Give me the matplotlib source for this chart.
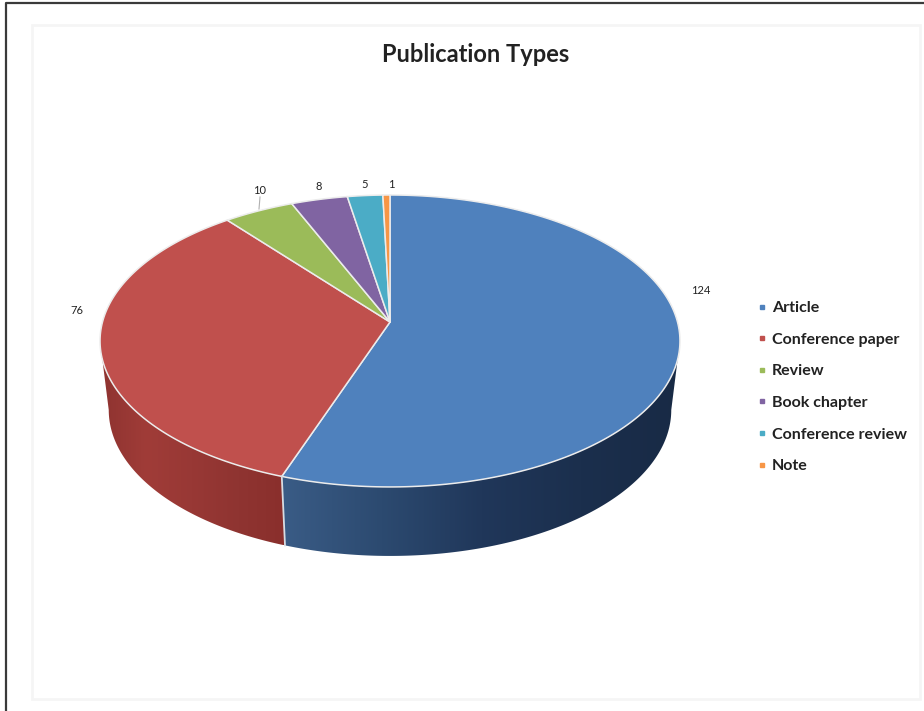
#!/usr/bin/env python3
"""
Publication types, drawn as a tilted 3D-look pie.
"""

import numpy as np
import matplotlib
matplotlib.use("Agg")
import matplotlib.pyplot as plt
from matplotlib.colors import LinearSegmentedColormap
from matplotlib.lines import Line2D
from matplotlib.patches import Polygon, Rectangle

labels = ["Article", "Conference paper", "Review", "Book chapter", "Conference review", "Note"]
values = [124, 76, 10, 8, 5, 1]
colors = ["#4f81bd", "#c0504d", "#9bbb59", "#8064a2", "#4bacc6", "#f79646"]

# pie geometry in pixels
CX, CY = 390, 322
KX, KY = 287.5, 143.5
P = 0.13
DEPTH = 69
BOTTOM_SCALE = 0.97

plt.rcParams["font.family"] = ["Lato", "DejaVu Sans"]

fig = plt.figure(figsize=(9.24, 7.11), dpi=100)
ax = fig.add_axes([0, 0, 1, 1])
ax.axis("off")


def project(angle):
    # clockwise degrees from 12 o'clock onto the tilted disc
    a = np.radians(angle)
    u, v = np.sin(a), np.cos(a)
    d = 1 + P * v
    return CX + KX * u / d, CY - KY * v / d


# wall shading, left to right across each slice
blue_wall = LinearSegmentedColormap.from_list("blue_wall", ["#3a5c86", "#2c4a70", "#20375a", "#1b2f4d", "#182a45"])
red_wall = LinearSegmentedColormap.from_list("red_wall", ["#8e3330", "#a03c38", "#983835", "#8f3431", "#8a2f2c"])

# frame
ax.add_patch(Rectangle((32, 25), 888, 674, fc="white", ec="#f5f5f5", lw=2))
ax.plot([5.5, 5.5, 924], [711, 2.5, 2.5], color="#3a3a3a", lw=1.6, solid_capstyle="butt")

# side wall, between the two widest points of the disc
bounds = np.cumsum([0] + values) / sum(values) * 360
side = np.degrees(np.arcsin(P))
for i, cmap in [(0, blue_wall), (1, red_wall)]:
    angles = np.linspace(max(bounds[i], 90 + side), min(bounds[i + 1], 270 - side), 200)
    x, y = project(angles)
    bx = CX + BOTTOM_SCALE * (x - CX)
    by = y + DEPTH
    pts = list(zip(x, y)) + list(zip(bx[::-1], by[::-1]))
    wall = Polygon(pts, closed=True, fc="none", ec="none")
    ax.add_patch(wall)
    grad = np.linspace(0, 1, 256).reshape(1, -1)
    im = ax.imshow(grad, cmap=cmap, aspect="auto", zorder=2,
                   extent=(min(x.min(), bx.min()), max(x.max(), bx.max()), by.max(), y.min()))
    im.set_clip_path(wall)

ax.set_xlim(0, 924)
ax.set_ylim(711, 0)

# top of the pie
for i in range(len(values)):
    angles = np.linspace(bounds[i], bounds[i + 1], 200)
    x, y = project(angles)
    pts = [(CX, CY)] + list(zip(x, y))
    ax.add_patch(Polygon(pts, closed=True, fc=colors[i], ec="#ececec", lw=1.1, joinstyle="round", zorder=3))

# white seam down the wall
sx, sy = project(bounds[1])
ax.plot([sx, CX + BOTTOM_SCALE * (sx - CX)], [sy, sy + DEPTH], color="#d8dce2", lw=1.3, zorder=4)

# data labels
label_pos = [(701, 290), (77, 310), (260, 190), (319, 187), (365, 185), (391, 185)]
for v, (lx, ly) in zip(values, label_pos):
    ax.text(lx, ly, str(v), ha="center", va="center", fontsize=8, color="#222222")
ax.plot([260, 259], [197, 209], color="#b0b0b0", lw=0.8, zorder=1)

ax.text(476, 54, "Publication Types", ha="center", va="center", fontsize=17, fontweight="bold", color="#222222")

handles = [Line2D([], [], ls="none", marker="s", ms=3.2, color=c) for c in colors]
ax.legend(handles, labels, loc="upper left", bbox_to_anchor=(755 / 924, 1 - 301 / 711),
          frameon=False, labelspacing=1.09, handlelength=0.9,
          handletextpad=0.16, borderpad=0, borderaxespad=0, labelcolor="#222222",
          prop={"weight": "bold", "size": 11.5})

fig.savefig("out.png", dpi=100)
